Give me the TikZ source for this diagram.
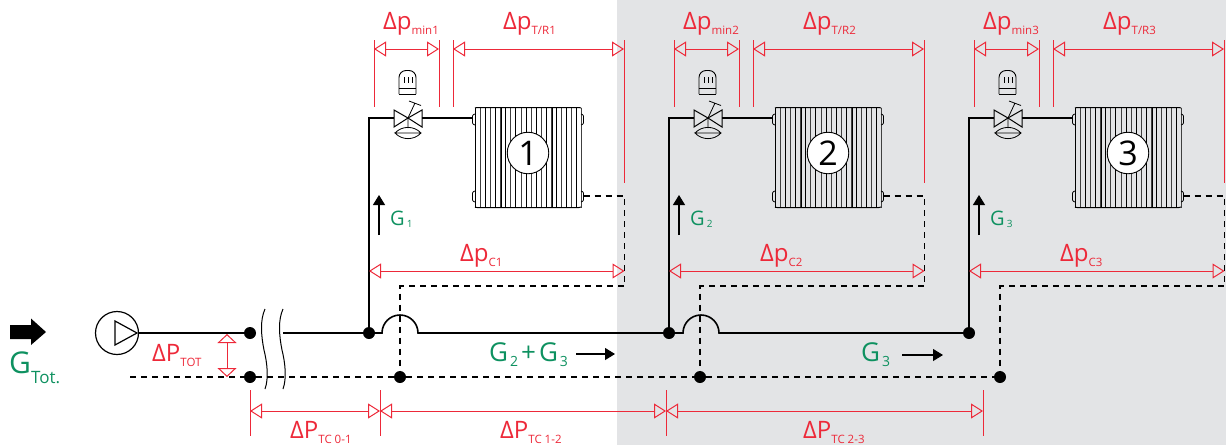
\documentclass[tikz,border=0pt]{standalone}
\usepackage{fontspec}
\setmainfont{Open Sans}
\usetikzlibrary{arrows.meta}
\definecolor{redline}{HTML}{ED2939}
\definecolor{greent}{HTML}{0E9160}
\definecolor{greybg}{HTML}{E3E4E6}
\newcommand{\dlab}[2]{\fontsize{24}{24}\selectfont Δ#1\raisebox{-5.5pt}{\fontsize{11.5}{11.5}\selectfont #2}}
\tikzset{
  x=1pt,y=-1pt,
  pipe/.style={line width=1.6pt,black},
  retpipe/.style={line width=1.6pt,black,dash pattern=on 6pt off 5pt},
  thin black/.style={line width=1pt,black},
  dim/.style={line width=1pt,redline,{Triangle[open,length=12pt,width=15pt,line width=1pt]}-{Triangle[open,length=12pt,width=15pt,line width=1pt]}},
  dimwide/.style={line width=1pt,redline,{Triangle[open,length=9pt,width=19pt,line width=1pt]}-{Triangle[open,length=9pt,width=19pt,line width=1pt]}},
  tick/.style={line width=1pt,redline},
  dot/.style={circle,fill=black,inner sep=0pt,minimum size=12pt},
  rlab/.style={text=redline,inner sep=0pt},
  glabel/.style={text=greent,inner sep=0pt},
  flow/.style={line width=1.2pt,black,-{Triangle[length=10pt,width=12pt]}},
}
\begin{document}
\begin{tikzpicture}
\useasboundingbox (0,0) rectangle (1226,445);
\fill[greybg] (617,0) rectangle (1226,445);

% main nodes
\node[dot] (d1) at (250,333) {};
\node[dot] (r1) at (250,377) {};
\node[dot] (j1) at (369,333) {};
\node[dot] (j2) at (669,333) {};
\node[dot] (j3) at (969,333) {};
\node[dot] (r2) at (400,377) {};
\node[dot] (r3) at (700,377) {};
\node[dot] (r4) at (1000,377) {};
\coordinate (rs) at (130,377);
\node[circle,draw,line width=1.2pt,minimum size=43pt,inner sep=0pt] (pump) at (117,333) {};
\draw[line width=1.2pt] (115,321) -- (137,333) -- (115,345) -- cycle;

% supply main
\coordinate (br) at (283,333);
\draw[pipe] (pump.east) -- (d1);
\draw[pipe] (br) -- (j1);
\draw[pipe] (j1) -- (382,333) arc[start angle=180,end angle=360,radius=18] -- (j2);
\draw[pipe] (j2) -- (683,333) arc[start angle=180,end angle=360,radius=18] -- (j3);
% return main
\draw[retpipe] (rs) -- (r1);
\draw[retpipe] (r1) -- (r2);
\draw[retpipe] (r2) -- (r3);
\draw[retpipe] (r3) -- (r4);

% break marks
\draw[thin black] (265,309) .. controls (260,320) and (261,335) .. (264,350) .. controls (267,362) and (269,378) .. (265,389);
\draw[thin black] (283,309) .. controls (278,320) and (279,335) .. (282,350) .. controls (285,362) and (287,378) .. (283,389);

% repeated units
\foreach \i/\dx/\ret in {1/0/r2,2/300/r3,3/600/r4}{
\begin{scope}[xshift=\dx pt]
  % radiator
  \foreach \k in {0,...,21}{
    \pgfmathparse{int(mod(\k,2))}
    \ifnum\pgfmathresult=0
      \draw[line width=1pt,black] ({475.5+5.05*\k},107.5) -- ({475.5+5.05*\k},207.5);
    \else
      \draw[line width=0.9pt,black!75] ({475.5+5.05*\k},107.5) -- ({475.5+5.05*\k},207.5);
    \fi
  }
  \draw[line width=1pt,rounded corners=1pt] (475,108) -- (476,107.5) -- (580,107.5) -- (581,108);
  \draw[line width=1pt,rounded corners=1pt] (475,207) -- (476,207.5) -- (580,207.5) -- (581,207);
  \draw[line width=1.8pt] (501.5,107.5) -- (501.5,207.5) (552.5,107.5) -- (552.5,207.5);
  \draw[line width=0.8pt,rounded corners=1pt] (475,114) -- (472.5,115) -- (472.5,124) -- (475,125);
  \draw[line width=0.8pt,rounded corners=1pt] (475,191) -- (472.5,192) -- (472.5,201) -- (475,202);
  \draw[line width=0.8pt,rounded corners=1pt] (581,114) -- (583.5,115) -- (583.5,124) -- (581,125);
  \draw[line width=0.8pt,rounded corners=1pt] (581,191) -- (583.5,192) -- (583.5,201) -- (581,202);
  \node[circle,draw,fill=white,line width=0.9pt,minimum size=41.5pt,inner sep=0pt,font=\fontsize{34}{34}\selectfont] (rad\i) at (528,153) {\i};
  % valve
  \coordinate (vc\i) at (408,118);
  \coordinate (vl\i) at (394,118);
  \coordinate (vr\i) at (422,118);
  \coordinate (rin\i) at (472.5,118);
  \coordinate (rout\i) at (583.5,196);
  \coordinate (cor\i) at (624.5,196);
  \coordinate (low\i) at (624.5,286);
  \coordinate (top\i) at (369,118);
  \draw[line width=1pt,line join=miter] (394,110) -- (394,127) -- (408,118) -- cycle (422,110) -- (422,127) -- (408,118) -- cycle;
  \draw[line width=0.8pt] (408,118) -- (408,128) (408,118) -- (415,103) (409,101) -- (421,105.5);
  \draw[line width=0.8pt] (395,133) .. controls (402,125.5) and (414,125.5) .. (421,133) .. controls (414,140.5) and (402,140.5) .. (395,133) -- (421,133);
  % thermostat head
  \draw[line width=0.9pt,rounded corners=7pt] (399,94) -- (399,70.5) -- (416,70.5) -- (416,94);
  \draw[line width=0.9pt] (399,94) -- (416,94) (399,88.5) -- (416,88.5);
  \draw[line width=0.9pt] (404,77) -- (404,83) (408,77) -- (408,83) (412,77) -- (412,83);
  % connections
  \draw[pipe] (j\i) -- (top\i) -- (vl\i);
  \draw[pipe] (vr\i) -- (rin\i);
  \draw[retpipe] (rout\i) -- (cor\i) -- (low\i) -| (\ret);
  % flow
  \coordinate (gb\i) at (379,235);
  \coordinate (gt\i) at (379,195);
  \draw[flow] (gb\i) -- (gt\i);
  \node[glabel,anchor=west,font=\fontsize{20}{20}\selectfont] (g\i) at (390,219) {G\raisebox{-2pt}{\fontsize{10}{10}\selectfont\hspace{2pt}\i}};
  % dims
  \coordinate (a\i) at (374,49); \coordinate (b\i) at (439,49);
  \coordinate (c\i) at (453,49); \coordinate (e\i) at (624,49);
  \draw[tick] (374,40) -- (374,107);
  \draw[tick] (439,40) -- (439,107);
  \draw[tick] (453,40) -- (453,107);
  \draw[tick] (624,40) -- (624,183);
  \draw[dim] (a\i) -- (b\i);
  \draw[dim] (c\i) -- (e\i);
  \coordinate (f\i) at (369,271); \coordinate (h\i) at (624.5,271);
  \draw[dim] (f\i) -- (h\i);
  \node[rlab,anchor=base west] (lm\i) at (383,29) {\dlab{p}{min\i}};
  \node[rlab,anchor=base west] (lt\i) at (503,29) {\dlab{p}{T/R\i}};
  \node[rlab,anchor=base west] (lc\i) at (460,261) {\dlab{p}{C\i}};
\end{scope}
}

% pump arrow and total flow
\fill (10,325) -- (31,325) -- (31,318.5) -- (46,332) -- (31,345) -- (31,339) -- (10,339) -- cycle;
\node[glabel,anchor=base west,font=\fontsize{30}{30}\selectfont] (gtot) at (9,373) {G\raisebox{-10pt}{\fontsize{17}{17}\selectfont Tot.}};

% total differential
\coordinate (tt) at (227,334);
\coordinate (tb) at (227,377);
\draw[dimwide] (tt) -- (tb);
\node[rlab,anchor=base west] (ltot) at (152,361) {\dlab{P}{TOT}};

% branch flow labels
\node[glabel,anchor=base west,font=\fontsize{26}{26}\selectfont] (g23) at (489,361) {G\raisebox{-5pt}{\fontsize{14}{14}\selectfont\hspace{2pt}2}\hspace{3pt}+\hspace{3pt}G\raisebox{-5pt}{\fontsize{14}{14}\selectfont\hspace{2pt}3}};
\coordinate (fa1) at (576,354); \coordinate (fb1) at (615,354);
\draw[flow] (fa1) -- (fb1);
\node[glabel,anchor=base west,font=\fontsize{26}{26}\selectfont] (g3m) at (861,361) {G\raisebox{-5pt}{\fontsize{14}{14}\selectfont\hspace{2pt}3}};
\coordinate (fa2) at (902,355); \coordinate (fb2) at (943,355);
\draw[flow] (fa2) -- (fb2);

% bottom dims
\foreach \n/\x in {t0/250,t1/380,t2/666,t3/983}{
  \coordinate (\n) at (\x,411);
  \draw[tick] (\x,390) -- (\x,436);
}
\draw[dim] (t0) -- (t1);
\draw[dim] (t1) -- (t2);
\draw[dim] (t2) -- (t3);
\node[rlab,anchor=base west] (l01) at (290,438) {\dlab{P}{TC 0-1}};
\node[rlab,anchor=base west] (l12) at (500,438) {\dlab{P}{TC 1-2}};
\node[rlab,anchor=base west] (l23) at (803,438) {\dlab{P}{TC 2-3}};
\end{tikzpicture}
\end{document}
